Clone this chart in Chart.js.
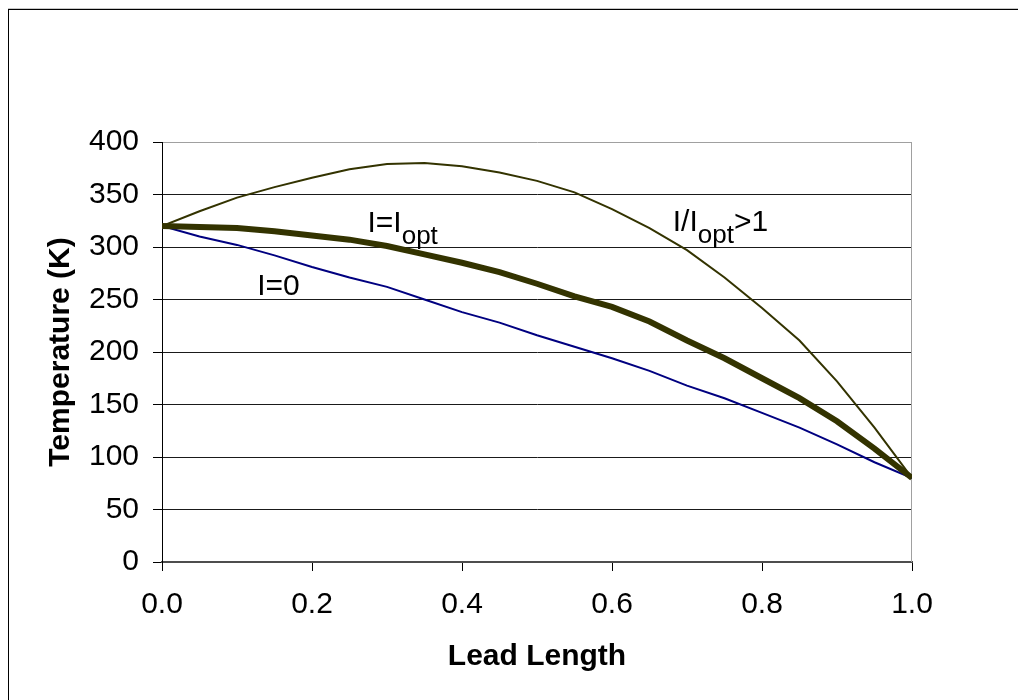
<!DOCTYPE html>
<html>
<head>
<meta charset="utf-8">
<title>Lead Temperature Profile</title>
<script src="https://cdn.jsdelivr.net/npm/chart.js@4.4.0/dist/chart.umd.min.js"></script>
<style>
  html, body { margin: 0; padding: 0; background: #fff; overflow: hidden; width: 1018px; height: 700px; }
  /* outer chart frame, only left/top edges fall inside the picture */
  #frame { position: absolute; left: 8px; top: 9px; width: 1200px; height: 900px; border: 1px solid #000; box-shadow: 0 -1px 0 #c8c8c8; }
  #wrap { position: absolute; left: 0; top: 0; width: 1018px; height: 700px; }
  canvas { width: 1018px; height: 700px; }
</style>
</head>
<body>
<div id="frame"></div>
<div id="wrap"><canvas id="leadChart" width="1018" height="700"></canvas></div>
<script>
// Lead length (normalised), shared by all three curves
const leadLength = [0, 0.05, 0.1, 0.15, 0.2, 0.25, 0.3, 0.35, 0.4, 0.45, 0.5,
                    0.55, 0.6, 0.65, 0.7, 0.75, 0.8, 0.85, 0.9, 0.95, 1.0];

// Temperature (K) along the lead
const tempZero = [320, 310, 302, 292, 281, 271, 262, 250, 238, 228, 216,
                  205, 194, 182, 168, 156, 142, 128, 112, 95, 80];
const tempOpt = [320, 319, 318, 315, 311, 307, 301, 293, 285, 276, 265,
                 253, 243, 229, 211, 194, 175, 156, 134, 108, 80];
const tempHigh = [320, 334, 347, 357, 366, 374, 379, 380, 377, 371, 363,
                  352, 336, 318, 297, 271, 242, 211, 172, 128, 80];

const xTickLabels = ['0.0', '0.2', '0.4', '0.6', '0.8', '1.0'];

// Curve annotations, anchored in data units (lead length, K)
const curveLabels = [
  { main: 'I=0', sub: '', tail: '', x: 0.127, y: 254 },
  { main: 'I=I', sub: 'opt', tail: '', x: 0.274, y: 314 },
  { main: 'I/I', sub: 'opt', tail: '>1', x: 0.681, y: 315 }
];

const FONT = 'Liberation Sans, Arial, sans-serif';

function toPoints(values) {
  return leadLength.map((x, i) => ({ x: x, y: values[i] }));
}

// Right-hand edge of the plot area (Excel draws it in grey)
const plotBorder = {
  id: 'plotBorder',
  beforeDatasetsDraw(chart) {
    const { ctx, chartArea } = chart;
    ctx.save();
    ctx.strokeStyle = '#a0a0a0';
    ctx.lineWidth = 1;
    ctx.beginPath();
    ctx.moveTo(chartArea.right - 0.5, chartArea.top);
    ctx.lineTo(chartArea.right - 0.5, chartArea.bottom);
    ctx.stroke();
    ctx.restore();
  }
};

// Text labels next to the curves, with subscripts
const curveText = {
  id: 'curveText',
  afterDatasetsDraw(chart) {
    const { ctx } = chart;
    const xs = chart.scales.x, ys = chart.scales.y;
    ctx.save();
    ctx.fillStyle = '#000';
    ctx.textAlign = 'left';
    ctx.textBaseline = 'alphabetic';
    curveLabels.forEach(lbl => {
      let px = xs.getPixelForValue(lbl.x);
      const py = ys.getPixelForValue(lbl.y);
      ctx.font = '30px ' + FONT;
      ctx.fillText(lbl.main, px, py);
      px += ctx.measureText(lbl.main).width;
      if (lbl.sub) {
        ctx.font = '26px ' + FONT;
        ctx.fillText(lbl.sub, px, py + 12);
        px += ctx.measureText(lbl.sub).width;
      }
      if (lbl.tail) {
        ctx.font = '30px ' + FONT;
        ctx.fillText(lbl.tail, px, py);
      }
    });
    ctx.restore();
  }
};

new Chart(document.getElementById('leadChart'), {
  type: 'line',
  data: {
    datasets: [
      {
        label: 'I=Iopt',
        data: toPoints(tempOpt),
        borderColor: '#333300',
        borderWidth: 6,
        pointRadius: 0,
        tension: 0
      },
      {
        label: 'I/Iopt>1',
        data: toPoints(tempHigh),
        borderColor: '#333300',
        borderWidth: 2,
        pointRadius: 0,
        tension: 0
      },
      {
        label: 'I=0',
        data: toPoints(tempZero),
        borderColor: '#000080',
        borderWidth: 2,
        pointRadius: 0,
        tension: 0
      }
    ]
  },
  options: {
    responsive: false,
    animation: false,
    layout: { padding: { top: 142, right: 106, bottom: 0, left: 0 } },
    plugins: {
      legend: { display: false },
      tooltip: { enabled: false }
    },
    scales: {
      x: {
        type: 'linear',
        min: 0,
        max: 1,
        afterFit: s => { s.height = 138; },
        grid: { drawOnChartArea: false, tickLength: 9, color: '#000' },
        border: { color: '#4d4d4d', width: 2 },
        ticks: {
          stepSize: 0.2,
          padding: 16,
          color: '#000',
          font: { family: FONT, size: 30 },
          maxRotation: 0,
          callback: v => xTickLabels[Math.round(v / 0.2)]
        },
        title: {
          display: true,
          text: 'Lead Length',
          color: '#000',
          font: { family: FONT, size: 30, weight: 'bold' },
          padding: { top: 0, bottom: 25 }
        }
      },
      y: {
        min: 0,
        max: 400,
        afterFit: s => { s.width = 162; },
        grid: {
          tickLength: 9,
          tickColor: '#000',
          color: c => (c.tick && c.tick.value === 400) ? '#a0a0a0' : '#1a1a1a'
        },
        border: { color: '#000', width: 1 },
        ticks: {
          stepSize: 50,
          padding: 14,
          color: '#000',
          font: { family: FONT, size: 30 }
        },
        title: {
          display: true,
          text: 'Temperature (K)',
          color: '#000',
          font: { family: FONT, size: 30, weight: 'bold' },
          padding: { top: 43, bottom: 0 }
        }
      }
    }
  },
  plugins: [plotBorder, curveText]
});
</script>
</body>
</html>
